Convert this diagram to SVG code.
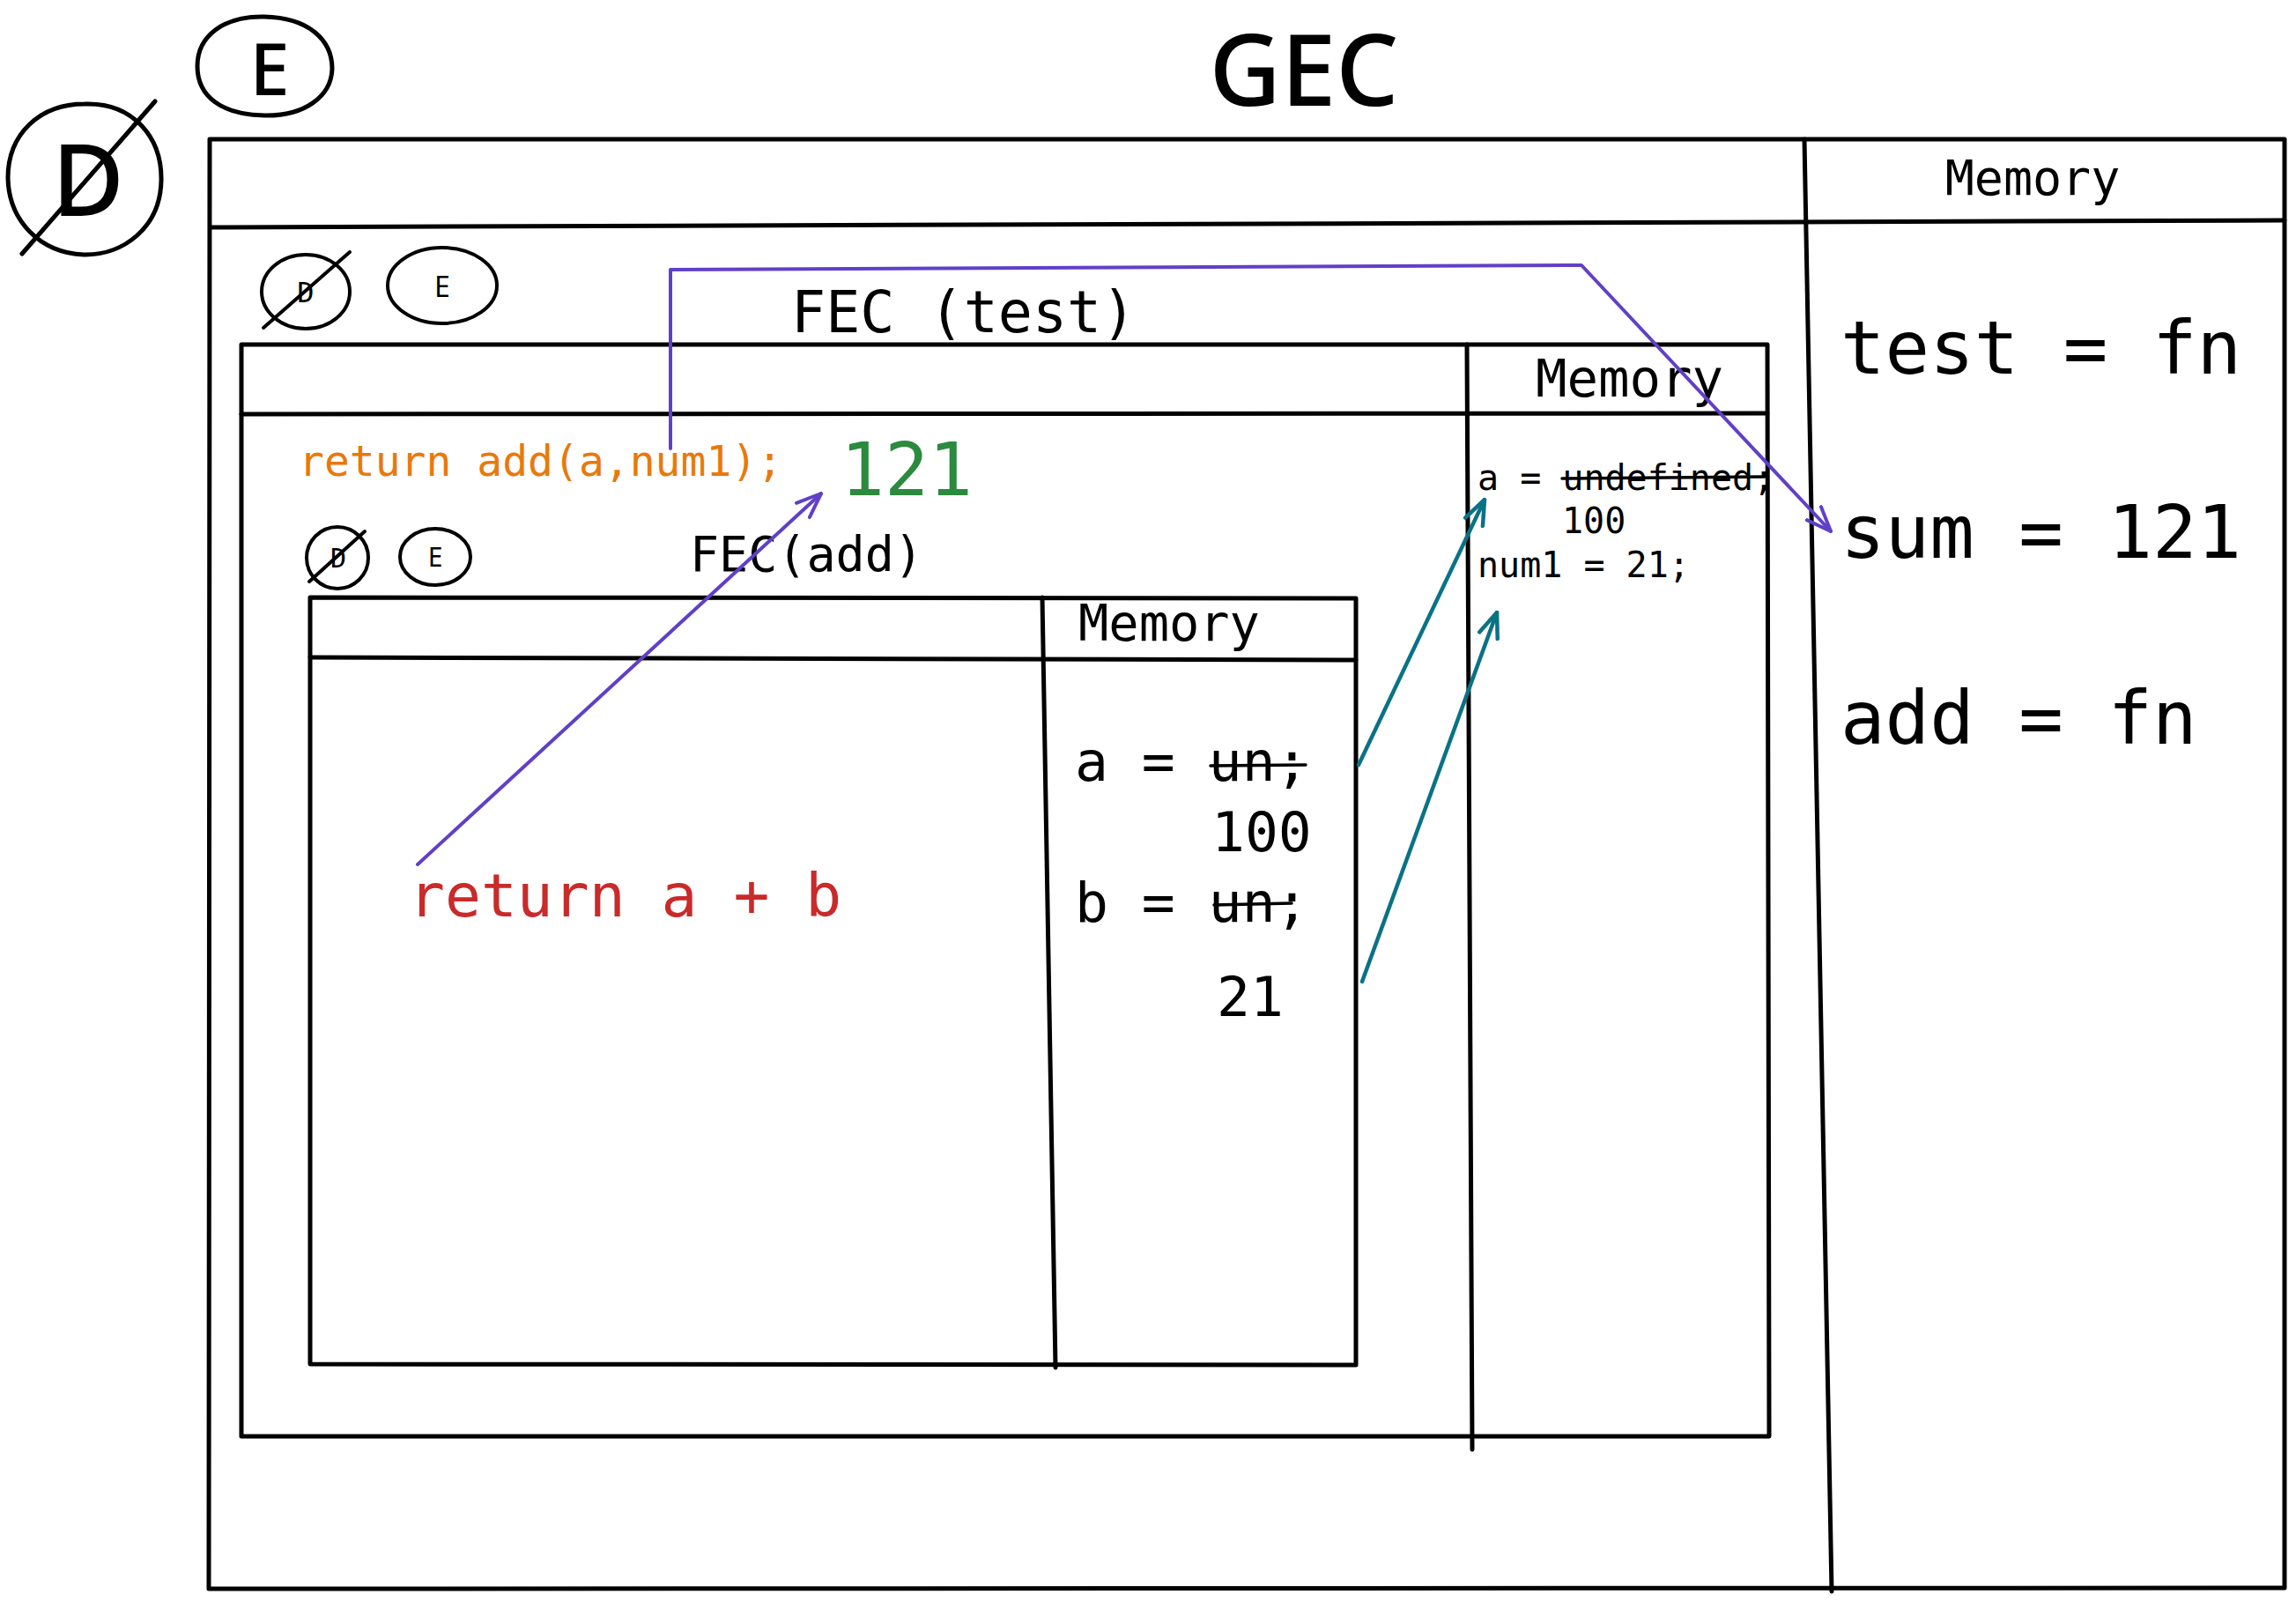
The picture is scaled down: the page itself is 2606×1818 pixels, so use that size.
<svg xmlns="http://www.w3.org/2000/svg" width="2606" height="1818" viewBox="0 0 2606 1818">
<style>
.ln{stroke:#000;stroke-width:5;fill:none;stroke-linecap:round;stroke-linejoin:round}
.thin{stroke:#000;stroke-width:4;fill:none;stroke-linecap:round}
.mono{font-family:"DejaVu Sans Mono","Liberation Mono",monospace;fill:#000}
.sans{font-family:"Noto Sans","Liberation Sans",sans-serif;fill:#000}
.pur{stroke:#6040c8;stroke-width:4;fill:none;stroke-linecap:round;stroke-linejoin:round}
.teal{stroke:#0b7285;stroke-width:4.5;fill:none;stroke-linecap:round}
.strike{stroke:#000;stroke-width:3.5;stroke-linecap:round}
</style>
<defs>
<marker id="ahP" viewBox="0 0 32 26" refX="30" refY="13" markerWidth="32" markerHeight="26" markerUnits="userSpaceOnUse" orient="auto">
<path d="M2,2 L30,13 L2,24" fill="none" stroke="#6040c8" stroke-width="4" stroke-linecap="round" stroke-linejoin="round"/>
</marker>
<marker id="ahT" viewBox="0 0 32 26" refX="30" refY="13" markerWidth="32" markerHeight="26" markerUnits="userSpaceOnUse" orient="auto">
<path d="M2,2 L30,13 L2,24" fill="none" stroke="#0b7285" stroke-width="4.5" stroke-linecap="round" stroke-linejoin="round"/>
</marker>
</defs>
<rect width="2606" height="1818" fill="#fff"/>

<g id="title-gec">
<text class="sans" x="1480" y="120" font-size="112" font-weight="500" text-anchor="middle">GEC</text>
</g>

<g id="node-d-big">
<path class="ln" d="M96,118 C150,116 184,155 183,205 C182,258 140,290 95,289 C45,287 10,250 9,202 C9,152 45,118 96,118 Z"/>
<text class="sans" x="100" y="245" font-size="112" font-weight="500" text-anchor="middle">D</text>
<line class="ln" x1="25" y1="288" x2="176" y2="115"/>
</g>

<g id="node-e-big">
<path class="ln" d="M300,19 C350,20 377,45 377,78 C376,110 345,132 300,131 C252,130 224,110 224,75 C224,40 255,18 300,19 Z"/>
<text class="sans" x="306" y="108" font-size="81" font-weight="500" text-anchor="middle">E</text>
</g>

<g id="node-gec">
<path class="ln" d="M238,158 L2593,158 M238,158 L237,1803 M237,1803 L2593,1802 M2593,158 L2593,1802"/>
<path class="ln" d="M240,258 L2593,250"/>
<path class="ln" d="M2048,158 L2079,1806"/>
<text class="mono" x="2307" y="221" font-size="55" text-anchor="middle">Memory</text>
<text class="mono" x="2089" y="424" font-size="84">test = fn</text>
<text class="mono" x="2089" y="633" font-size="84">sum = 121</text>
<text class="mono" x="2089" y="844" font-size="84">add = fn</text>
</g>

<g id="node-fec-test">
<ellipse class="thin" cx="347" cy="331" rx="50" ry="42"/>
<text class="mono" x="347" y="343" font-size="32" text-anchor="middle">D</text>
<line class="thin" x1="299" y1="372" x2="397" y2="286"/>
<ellipse class="thin" cx="502" cy="324" rx="62" ry="43"/>
<text class="sans" x="502" y="337" font-size="32" text-anchor="middle">E</text>
<text class="mono" x="898" y="377" font-size="65">FEC (test)</text>
<path class="ln" d="M274,391 L2006,391 L2008,1630 L274,1630 Z"/>
<path class="ln" d="M274,470 L2006,469"/>
<path class="ln" d="M1665,391 L1671,1645"/>
<text class="mono" x="1743" y="450" font-size="59">Memory</text>
<text class="mono" x="1677" y="556" font-size="40">a = undefined;</text>
<line class="strike" x1="1773" y1="543" x2="2003" y2="541"/>
<text class="mono" x="1773" y="605" font-size="40">100</text>
<text class="mono" x="1677" y="655" font-size="40">num1 = 21;</text>
<text class="mono" x="339" y="540" font-size="48" style="fill:#e8790c">return add(a,num1);</text>
<text class="mono" x="954" y="562" font-size="83" style="fill:#2b8a3e">121</text>
</g>

<g id="node-fec-add">
<ellipse class="thin" cx="383" cy="633" rx="35" ry="35"/>
<text class="mono" x="384" y="644" font-size="30" text-anchor="middle">D</text>
<line class="thin" x1="351" y1="660" x2="414" y2="603"/>
<ellipse class="thin" cx="494" cy="632" rx="40" ry="32"/>
<text class="sans" x="494" y="643" font-size="30" text-anchor="middle">E</text>
<text class="mono" x="783" y="648" font-size="55">FEC(add)</text>
<path class="ln" d="M352,678 L1539,679 L1539,1549 L352,1548 Z"/>
<path class="ln" d="M352,746 L1539,749"/>
<path class="ln" d="M1183,678 L1198,1552"/>
<text class="mono" x="1224" y="727" font-size="57">Memory</text>
<text class="mono" x="1220" y="886" font-size="63">a = un;</text>
<line class="strike" x1="1374" y1="869" x2="1482" y2="868"/>
<text class="mono" x="1375" y="966" font-size="63">100</text>
<text class="mono" x="1220" y="1046" font-size="63">b = un;</text>
<line class="strike" x1="1378" y1="1027" x2="1466" y2="1025"/>
<text class="mono" x="1381" y="1153" font-size="63">21</text>
<text class="mono" x="464" y="1040" font-size="68" style="fill:#c92a2a">return a + b</text>
</g>

<g id="connectors">
<path class="pur" d="M474,981 L932,560" marker-end="url(#ahP)"/>
<path class="pur" d="M761,509 L761,306 L1795,301 L2078,603" marker-end="url(#ahP)"/>
<path class="teal" d="M1542,868 L1685,567" marker-end="url(#ahT)"/>
<path class="teal" d="M1546,1114 L1699,695" marker-end="url(#ahT)"/>
</g>
</svg>
